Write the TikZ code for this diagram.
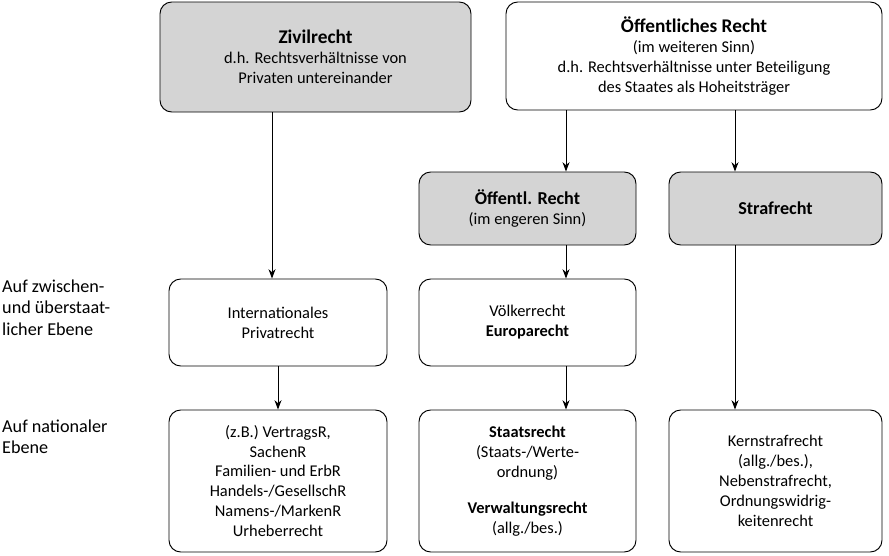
\documentclass[tikz,border=0pt]{standalone}
\usepackage{fontspec}
\setmainfont{Carlito}
\usetikzlibrary{arrows.meta}
\begin{document}
\begin{tikzpicture}[x=0.03cm,y=-0.03cm]
	\tikzstyle{every node}=[font=\fontsize{14}{17}\selectfont]
	\tikzstyle{box}=[draw, rounded corners=10pt, thick, align=center, inner sep=2pt]
	\tikzstyle{grey}=[box, fill=black!17]
	\tikzstyle{arr}=[-{Stealth[length=8pt,width=6pt]}, thick]
	\useasboundingbox (0,0) rectangle (889,556);
	
	% obere Ebene
	\node[grey, minimum width=311*0.03cm, minimum height=110*0.03cm] (ziv) at (315.5,57) {{\fontsize{16.5}{20}\selectfont\textbf{Zivilrecht}}\\d.h. Rechtsverhältnisse von\\Privaten untereinander};
	\node[box, minimum width=376*0.03cm, minimum height=108*0.03cm] (oeff) at (694,56) {{\fontsize{16.5}{20}\selectfont\textbf{Öffentliches Recht}}\\(im weiteren Sinn)\\d.h. Rechtsverhältnisse unter Beteiligung\\des Staates als Hoheitsträger};
	\node[grey, minimum width=217*0.03cm, minimum height=73*0.03cm] (oeffe) at (527.5,208.5) {{\fontsize{15.5}{18}\selectfont\textbf{Öffentl. Recht}}\\(im engeren Sinn)};
	\node[grey, minimum width=213*0.03cm, minimum height=73*0.03cm] (straf) at (775.5,208.5) {{\fontsize{15.5}{18}\selectfont\textbf{Strafrecht}}};
	
	% zwischen- und überstaatlich
	\node[box, minimum width=218*0.03cm, minimum height=87*0.03cm] (ipr) at (278,322.5) {Internationales\\Privatrecht};
	\node[box, minimum width=217*0.03cm, minimum height=87*0.03cm] (voelk) at (527.5,322.5) {Völkerrecht\\\textbf{Europarecht}};
	
	% national
	\node[box, minimum width=218*0.03cm, minimum height=142*0.03cm] (priv) at (278,481) {(z.B.) VertragsR,\\SachenR\\Familien- und ErbR\\Handels-/GesellschR\\Namens-/MarkenR\\Urheberrecht};
	\node[box, minimum width=217*0.03cm, minimum height=142*0.03cm] (staat) at (527.5,481) {\textbf{Staatsrecht}\\(Staats-/Werte-\\ordnung)\\[14pt]\textbf{Verwaltungsrecht}\\(allg./bes.)};
	\node[box, minimum width=213*0.03cm, minimum height=142*0.03cm] (kern) at (775.5,481) {Kernstrafrecht\\(allg./bes.),\\Nebenstrafrecht,\\Ordnungswidrig-\\keitenrecht};
	
	% Ebenen
	\node[anchor=north west, align=left, inner sep=0pt, font=\fontsize{15.5}{18}\selectfont] (ebz) at (2,280) {Auf zwischen-\\und überstaat-\\licher Ebene};
	\node[anchor=north west, align=left, inner sep=0pt, font=\fontsize{15.5}{18}\selectfont] (ebn) at (2,420) {Auf nationaler\\Ebene};
	
	\draw[arr] (ziv.south -| 272,0) -- (ipr.north -| 272,0);
	\draw[arr] (ipr) -- (priv);
	\draw[arr] (oeff.south -| 566,0) -- (oeffe.north -| 566,0);
	\draw[arr] (oeff.south -| 735,0) -- (straf.north -| 735,0);
	\draw[arr] (oeffe.south -| 566,0) -- (voelk.north -| 566,0);
	\draw[arr] (voelk.south -| 566,0) -- (staat.north -| 566,0);
	\draw[arr] (straf.south -| 735,0) -- (kern.north -| 735,0);
\end{tikzpicture}
\end{document}
